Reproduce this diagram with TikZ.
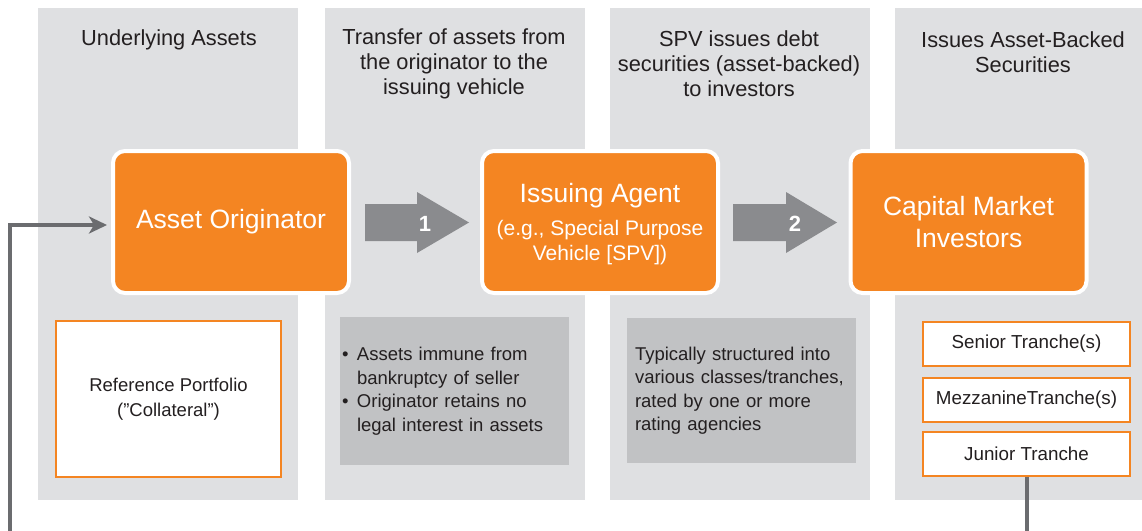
\documentclass[tikz,border=0pt]{standalone}
\usepackage{fontspec}
\setmainfont{Liberation Sans}
\usetikzlibrary{arrows.meta}

\definecolor{abOrange}{RGB}{244,133,34}
\definecolor{colGray}{RGB}{223,224,226}
\definecolor{boxGray}{RGB}{193,194,196}
\definecolor{arrowGray}{RGB}{138,139,142}
\definecolor{lineGray}{RGB}{107,108,111}
\definecolor{inkText}{RGB}{35,31,32}

\tikzset{
  column/.style={fill=colGray, draw=none, inner sep=0pt},
  header/.style={align=center, text=inkText, inner sep=0pt,
    font=\fontsize{21.8}{25}\selectfont},
  party/.style={fill=abOrange, draw=white, line width=4pt, rounded corners=12pt,
    minimum width=236pt, minimum height=142pt, inner sep=0pt, align=center,
    text=white, font=\fontsize{26.5}{32}\selectfont},
  notebox/.style={fill=boxGray, draw=none, align=left, text=inkText,
    font=\fontsize{18.5}{23.5}\selectfont},
  framebox/.style={fill=white, draw=abOrange, line width=2pt, inner sep=0pt,
    align=center, text=inkText},
  tranche/.style={framebox, minimum width=207pt, minimum height=44pt,
    font=\fontsize{18.8}{23}\selectfont},
  flowarrow/.style={fill=arrowGray, draw=none},
  steplabel/.style={text=white, font=\fontsize{22}{26}\selectfont\bfseries, inner sep=0pt},
  loopline/.style={draw=lineGray, line width=4pt,
    -{Stealth[length=18pt, width=17pt, inset=5pt]}, shorten >=4pt}
}

\begin{document}
\begin{tikzpicture}[x=1pt, y=-1pt]
\useasboundingbox (0,0) rectangle (1142,530);
\fill[white] (0,0) rectangle (1142,530);
\begin{scope}
\clip (0,0) rectangle (1142,530);

% background columns
\node[column, minimum width=260pt, minimum height=492pt] (col1) at (168,254) {};
\node[column, minimum width=260pt, minimum height=492pt] (col2) at (455,254) {};
\node[column, minimum width=260pt, minimum height=492pt] (col3) at (740,254) {};
\node[column, minimum width=260pt, minimum height=492pt] (col4) at (1025,254) {};

% column headings
\node[header] (h1) at (169,40) {Underlying Assets};
\node[header] (h2) at (454,64) {Transfer of assets from\\the originator to the\\issuing vehicle};
\node[header] (h3) at (739,64) {SPV issues debt\\securities (asset-backed)\\to investors};
\node[header] (h4) at (1023,52) {Issues Asset-Backed\\Securities};

% parties
\node[party] (orig) at (231,222) {Asset Originator};
\node[party] (spv) at (600,222)
  {\rule{0pt}{23pt}Issuing Agent\\[1pt]{\fontsize{21}{25}\selectfont (e.g., Special Purpose}\\[-7pt]{\fontsize{21}{25}\selectfont Vehicle [SPV])}};
\node[party] (inv) at (968.5,222) {Capital Market\\Investors};

% flow arrows between the parties
\coordinate (a1) at (365,222.5);
\fill[flowarrow] (a1) ++(0,-18.5) -- ++(52,0) -- ++(0,-12) -- (469,222.5)
  -- (417,253) -- ++(0,-12) -- ++(-52,0) -- cycle;
\node[steplabel] (n1) at (425,224) {1};
\coordinate (a2) at (733,222.5);
\fill[flowarrow] (a2) ++(0,-18.5) -- ++(53,0) -- ++(0,-12) -- (837,222.5)
  -- (786,253) -- ++(0,-12) -- ++(-53,0) -- cycle;
\node[steplabel] (n2) at (795,224) {2};

% lower boxes
\node[framebox, minimum width=225pt, minimum height=156pt,
  font=\fontsize{18.5}{25}\selectfont] (pool) at (168.5,399)
  {Reference Portfolio\\(”Collateral”)};

\node[notebox, minimum width=229pt, minimum height=148pt,
  inner xsep=2pt, text width=225pt] (legal) at (454.5,391)
  {\makebox[15pt][l]{•}Assets immune from\\
   \hspace*{15pt}bankruptcy of seller\\
   \makebox[15pt][l]{•}Originator retains no\\
   \hspace*{15pt}legal interest in assets};

\node[notebox, minimum width=229pt, minimum height=145pt,
  inner xsep=8pt, text width=213pt] (rating) at (741.5,390.5)
  {Typically structured into\\various classes/tranches,\\rated by one or more\\rating agencies};

\node[tranche] (sen) at (1026.5,344) {Senior Tranche(s)};
\node[tranche] (mez) at (1026.5,399.5) {MezzanineTranche(s)};
\node[tranche] (jr) at (1026.5,454) {Junior Tranche};

% recycling loop back to the originator
\coordinate (lft) at (10,545);
\draw[loopline] (jr.south) |- (lft) |- ([yshift=-3pt]orig.west);
\end{scope}
\end{tikzpicture}
\end{document}
